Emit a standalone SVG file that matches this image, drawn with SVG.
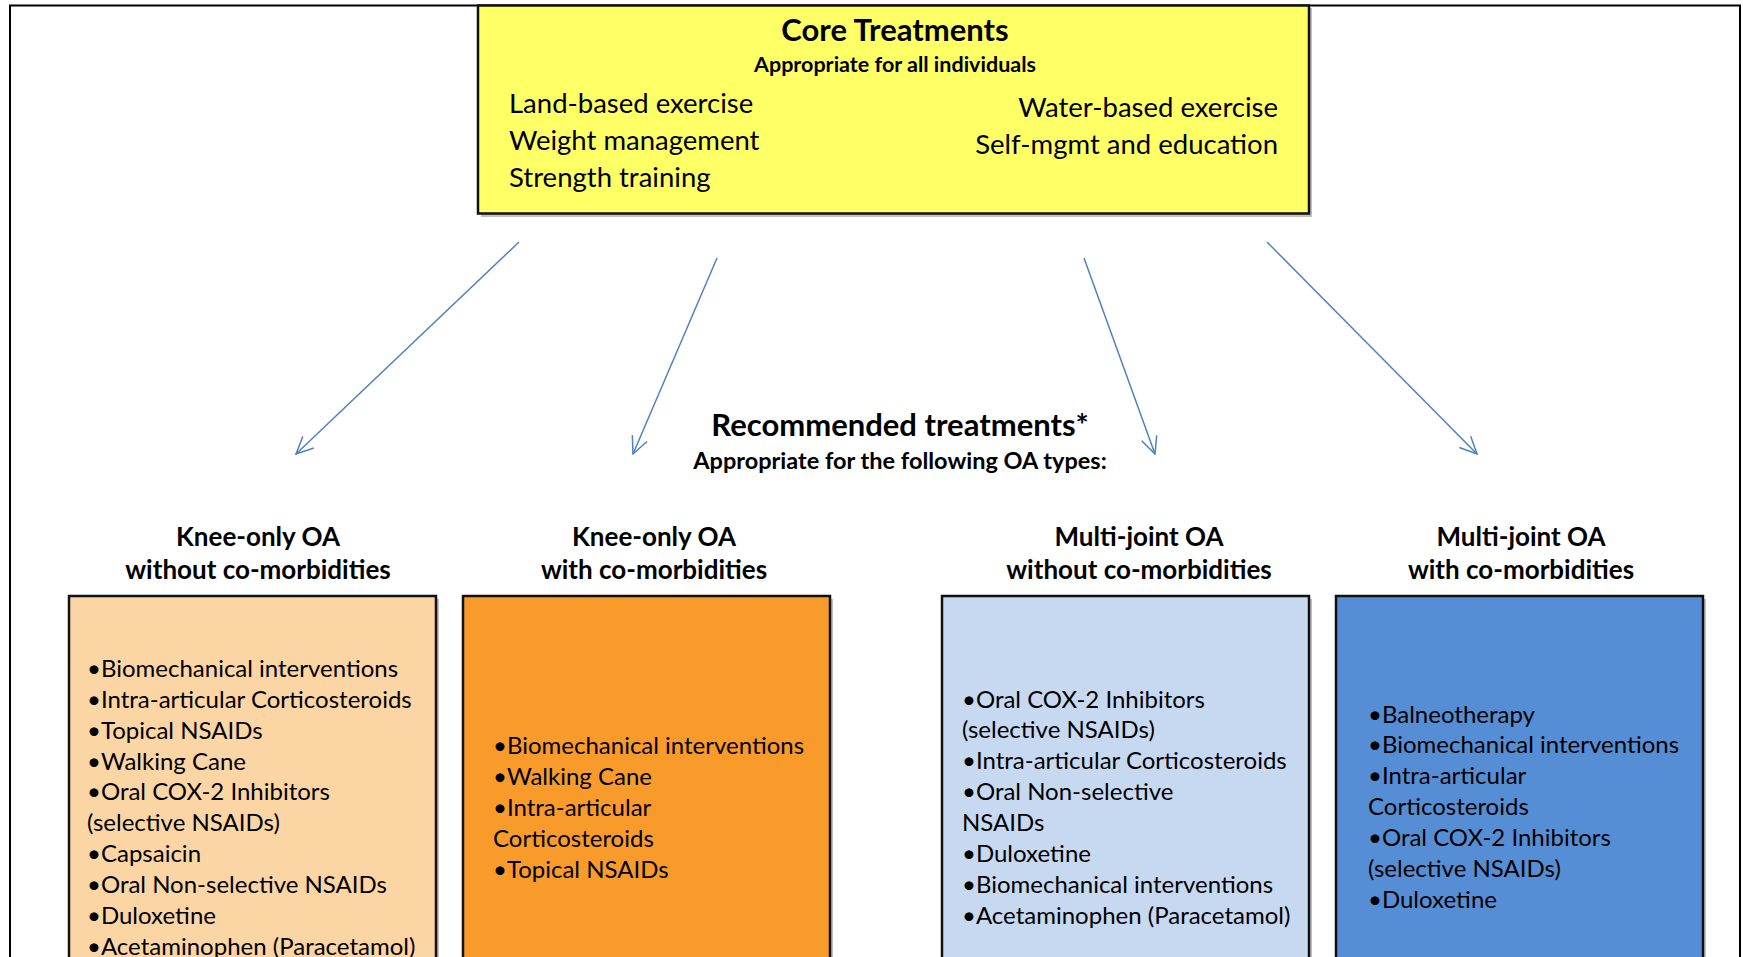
<svg xmlns="http://www.w3.org/2000/svg" width="1743" height="957" viewBox="0 0 1743 957">
<style>
  text { font-family: Lato, "Open Sans", "Liberation Sans", sans-serif; fill: #000; }
  .title { font-weight: 700; font-size: 31px; }
  .sub { font-weight: 700; font-size: 21.5px; }
  .sub2 { font-weight: 700; font-size: 23.5px; }
  .core { font-size: 27.5px; }
  .hdr { font-weight: 700; font-size: 26px; }
  .item { font-size: 24px; }
  .box { stroke: #111; stroke-width: 2.5; }
  .shadow { fill: #000; opacity: 0.25; }
  .conn { stroke: #4F81BD; stroke-width: 1.5; fill: none; marker-end: url(#arr); }
</style>
<defs>
  <marker id="arr" viewBox="0 0 20 20" refX="19" refY="10" markerWidth="20" markerHeight="20" markerUnits="userSpaceOnUse" orient="auto">
    <path d="M2,2 L19,10 L2,18" fill="none" stroke="#4F81BD" stroke-width="1.5"/>
  </marker>
</defs>
<rect x="0" y="0" width="1743" height="957" fill="#fff"/>
<rect x="10" y="5.5" width="1730" height="1000" fill="none" stroke="#000" stroke-width="2"/>

<g id="core">
  <rect class="shadow" x="481" y="8" width="831" height="209"/>
  <rect class="box" x="478" y="5.5" width="831" height="208" fill="#FFFF66" stroke-width="3"/>
  <text class="title" x="895" y="41" text-anchor="middle">Core Treatments</text>
  <text class="sub" x="895" y="72" text-anchor="middle">Appropriate for all individuals</text>
  <text class="core" x="509" y="113">Land-based exercise</text>
  <text class="core" x="509" y="150">Weight management</text>
  <text class="core" x="509" y="187">Strength training</text>
  <text class="core" x="1278" y="117" text-anchor="end">Water-based exercise</text>
  <text class="core" x="1278" y="154" text-anchor="end">Self-mgmt and education</text>
</g>

<g id="connectors">
  <line class="conn" x1="519" y1="242" x2="296" y2="454"/>
  <line class="conn" x1="717" y1="258" x2="633" y2="454"/>
  <line class="conn" x1="1084" y1="258" x2="1155" y2="454"/>
  <line class="conn" x1="1267" y1="242" x2="1477" y2="454"/>
</g>

<g id="recommended">
  <text class="title" x="900" y="436" text-anchor="middle">Recommended treatments*</text>
  <text class="sub2" x="900" y="469" text-anchor="middle">Appropriate for the following OA types:</text>
</g>

<g id="knee-without">
  <text class="hdr" x="258" y="546" text-anchor="middle">Knee-only OA</text>
  <text class="hdr" x="258" y="579" text-anchor="middle">without co-morbidities</text>
  <rect class="shadow" x="72" y="599" width="367" height="400"/>
  <rect class="box" x="69" y="596" width="367" height="400" fill="#FCD5A4"/>
  <text class="item" x="87" y="677">•Biomechanical interventions</text>
  <text class="item" x="87" y="708">•Intra-articular Corticosteroids</text>
  <text class="item" x="87" y="739">•Topical NSAIDs</text>
  <text class="item" x="87" y="770">•Walking Cane</text>
  <text class="item" x="87" y="800">•Oral COX-2 Inhibitors</text>
  <text class="item" x="87" y="831">(selective NSAIDs)</text>
  <text class="item" x="87" y="862">•Capsaicin</text>
  <text class="item" x="87" y="893">•Oral Non-selective NSAIDs</text>
  <text class="item" x="87" y="924">•Duloxetine</text>
  <text class="item" x="87" y="955">•Acetaminophen (Paracetamol)</text>
</g>

<g id="knee-with">
  <text class="hdr" x="654" y="546" text-anchor="middle">Knee-only OA</text>
  <text class="hdr" x="654" y="579" text-anchor="middle">with co-morbidities</text>
  <rect class="shadow" x="466" y="599" width="367" height="400"/>
  <rect class="box" x="463" y="596" width="367" height="400" fill="#F99B2A"/>
  <text class="item" x="493" y="754">•Biomechanical interventions</text>
  <text class="item" x="493" y="785">•Walking Cane</text>
  <text class="item" x="493" y="816">•Intra-articular</text>
  <text class="item" x="493" y="847">Corticosteroids</text>
  <text class="item" x="493" y="878">•Topical NSAIDs</text>
</g>

<g id="multi-without">
  <text class="hdr" x="1139" y="546" text-anchor="middle">Multi-joint OA</text>
  <text class="hdr" x="1139" y="579" text-anchor="middle">without co-morbidities</text>
  <rect class="shadow" x="945" y="599" width="367" height="400"/>
  <rect class="box" x="942" y="596" width="367" height="400" fill="#C6D9F1"/>
  <text class="item" x="962" y="708">•Oral COX-2 Inhibitors</text>
  <text class="item" x="962" y="738">(selective NSAIDs)</text>
  <text class="item" x="962" y="769">•Intra-articular Corticosteroids</text>
  <text class="item" x="962" y="800">•Oral Non-selective</text>
  <text class="item" x="962" y="831">NSAIDs</text>
  <text class="item" x="962" y="862">•Duloxetine</text>
  <text class="item" x="962" y="893">•Biomechanical interventions</text>
  <text class="item" x="962" y="924">•Acetaminophen (Paracetamol)</text>
</g>

<g id="multi-with">
  <text class="hdr" x="1521" y="546" text-anchor="middle">Multi-joint OA</text>
  <text class="hdr" x="1521" y="579" text-anchor="middle">with co-morbidities</text>
  <rect class="shadow" x="1339" y="599" width="367" height="400"/>
  <rect class="box" x="1336" y="596" width="367" height="400" fill="#558ED5"/>
  <text class="item" x="1368" y="723">•Balneotherapy</text>
  <text class="item" x="1368" y="753">•Biomechanical interventions</text>
  <text class="item" x="1368" y="784">•Intra-articular</text>
  <text class="item" x="1368" y="815">Corticosteroids</text>
  <text class="item" x="1368" y="846">•Oral COX-2 Inhibitors</text>
  <text class="item" x="1368" y="877">(selective NSAIDs)</text>
  <text class="item" x="1368" y="908">•Duloxetine</text>
</g>
</svg>
